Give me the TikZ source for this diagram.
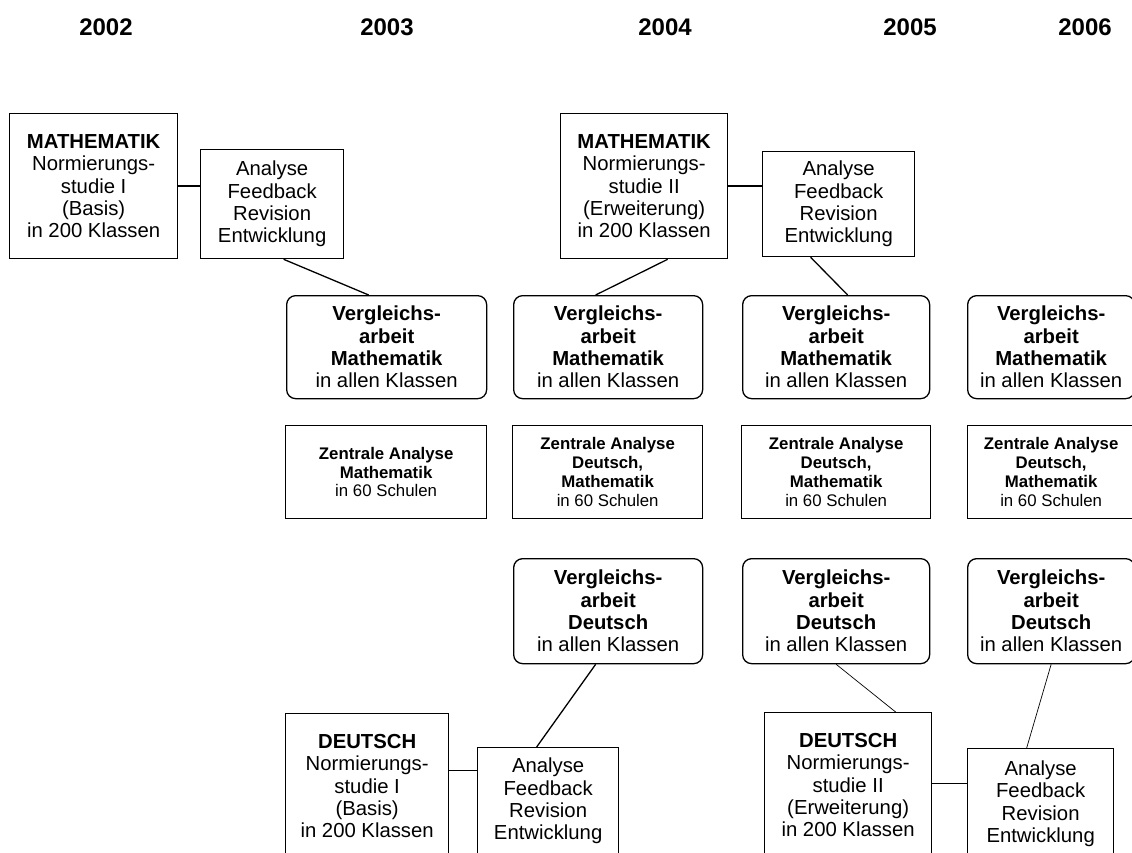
\documentclass[tikz,border=0pt]{standalone}
\usepackage{fontspec}
\setmainfont{Liberation Sans}
\usetikzlibrary{positioning,calc}
\tikzset{box/.style={draw, line width=1.3pt, align=center, anchor=north west, inner sep=0pt,
                     font=\fontsize{20.3}{22.3}\selectfont},
         rbox/.style={box, rounded corners=9pt},
         zbox/.style={box, font=\fontsize{16.8}{18.8}\selectfont},
         year/.style={font=\fontsize{24}{28}\selectfont\bfseries},
         link/.style={line width=1.3pt},
         thinlink/.style={line width=0.7pt}}

\begin{document}
\begin{tikzpicture}[x=1pt, y=-1pt]
            \useasboundingbox (0,0) rectangle (1132,853);
            \clip (0,0) rectangle (1132,853);
            % years
            \node[year] (y2) at (106,27) {2002};
            \node[year] (y3) at (387,27) {2003};
            \node[year] (y4) at (665,27) {2004};
            \node[year] (y5) at (910,27) {2005};
            \node[year] (y6) at (1085,27) {2006};
            % Mathematik
            \node[box, minimum width=168pt, minimum height=145pt] (mathI) at (9,113)
                {\textbf{MATHEMATIK}\\Normierungs-\\studie I\\(Basis)\\in 200 Klassen};
            \node[box, minimum width=143pt, minimum height=109pt] (anaI) at (200,149)
                {Analyse\\Feedback\\Revision\\Entwicklung};
            \node[box, minimum width=167pt, minimum height=145pt] (mathII) at (560,113)
                {\textbf{MATHEMATIK}\\Normierungs-\\studie II\\(Erweiterung)\\in 200 Klassen};
            \node[box, minimum width=152pt, minimum height=105pt] (anaII) at (762,151)
                {Analyse\\Feedback\\Revision\\Entwicklung};
            \node[rbox, minimum width=200pt, minimum height=103pt] (vergM1) at (286,295)
                {\textbf{Vergleichs-}\\\textbf{arbeit}\\\textbf{Mathematik}\\in allen Klassen};
            \node[rbox, minimum width=189pt, minimum height=103pt] (vergM2) at (513,295)
                {\textbf{Vergleichs-}\\\textbf{arbeit}\\\textbf{Mathematik}\\in allen Klassen};
            \node[rbox, minimum width=187pt, minimum height=103pt] (vergM3) at (742,295)
                {\textbf{Vergleichs-}\\\textbf{arbeit}\\\textbf{Mathematik}\\in allen Klassen};
            \node[rbox, minimum width=167pt, minimum height=103pt] (vergM4) at (967,295)
                {\textbf{Vergleichs-}\\\textbf{arbeit}\\\textbf{Mathematik}\\in allen Klassen};
            % Zentrale Analyse
            \node[zbox, minimum width=201pt, minimum height=93pt] (zenI) at (285,425)
                {\textbf{Zentrale Analyse}\\\textbf{Mathematik}\\in 60 Schulen};
            \node[zbox, minimum width=190pt, minimum height=93pt] (zenII) at (512,425)
                {\textbf{Zentrale Analyse}\\\textbf{Deutsch,}\\\textbf{Mathematik}\\in 60 Schulen};
            \node[zbox, minimum width=189pt, minimum height=93pt] (zenIII) at (741,425)
                {\textbf{Zentrale Analyse}\\\textbf{Deutsch,}\\\textbf{Mathematik}\\in 60 Schulen};
            \node[zbox, minimum width=167pt, minimum height=93pt] (zenIV) at (967,425)
                {\textbf{Zentrale Analyse}\\\textbf{Deutsch,}\\\textbf{Mathematik}\\in 60 Schulen};
            % Deutsch
            \node[rbox, minimum width=189pt, minimum height=105pt] (vergD1) at (513,558)
                {\textbf{Vergleichs-}\\\textbf{arbeit}\\\textbf{Deutsch}\\in allen Klassen};
            \node[rbox, minimum width=187pt, minimum height=105pt] (vergD2) at (742,558)
                {\textbf{Vergleichs-}\\\textbf{arbeit}\\\textbf{Deutsch}\\in allen Klassen};
            \node[rbox, minimum width=167pt, minimum height=105pt] (vergD3) at (967,558)
                {\textbf{Vergleichs-}\\\textbf{arbeit}\\\textbf{Deutsch}\\in allen Klassen};
            \node[box, minimum width=163pt, minimum height=145pt] (deuI) at (285,713)
                {\textbf{DEUTSCH}\\Normierungs-\\studie I\\(Basis)\\in 200 Klassen};
            \node[box, minimum width=141pt, minimum height=107pt] (anaDI) at (477,747)
                {Analyse\\Feedback\\Revision\\Entwicklung};
            \node[box, minimum width=167pt, minimum height=145pt] (deuII) at (764,712)
                {\textbf{DEUTSCH}\\Normierungs-\\studie II\\(Erweiterung)\\in 200 Klassen};
            \node[box, minimum width=146pt, minimum height=110pt] (anaDII) at (967,748)
                {Analyse\\Feedback\\Revision\\Entwicklung};
            % connectors
            \draw[link] (mathI.east) -- (mathI.east -| anaI.west);
            \draw[link] (mathII.east) -- (mathII.east -| anaII.west);
            \draw[link] ([xshift=11.5pt]anaI.south) -- ([xshift=-18pt]vergM1.north);
            \draw[link] ([xshift=23.5pt]mathII.south) -- ([xshift=-12.5pt]vergM2.north);
            \draw[link] ([xshift=-28pt]anaII.south) -- ([xshift=11.5pt]vergM3.north);
            \draw[link] ([yshift=15.5pt]deuI.east) -- ([yshift=15.5pt]deuI.east -| anaDI.west);
            \draw[link] ([xshift=-12.5pt]vergD1.south) -- ([xshift=-11.5pt]anaDI.north);
            \draw[thinlink] (vergD2.south) -- ([xshift=47.5pt]deuII.north);
            \draw[thinlink] (vergD3.south) -- ([xshift=-14pt]anaDII.north);
            \draw[thinlink] ([yshift=1.5pt]deuII.east) -- ([yshift=1.5pt]deuII.east -| anaDII.west);
\end{tikzpicture}
\end{document}
